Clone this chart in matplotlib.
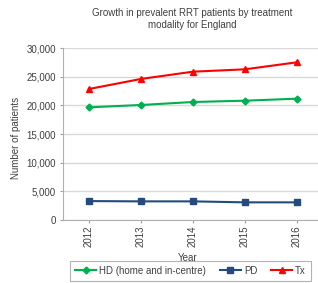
import matplotlib
matplotlib.use("Agg")
import matplotlib.pyplot as plt

years = ["2012", "2013", "2014", "2015", "2016"]
hd = [19650, 20060, 20580, 20810, 21160]
pd_ = [3300, 3250, 3250, 3080, 3080]
tx = [22850, 24600, 25870, 26280, 27500]
yticks = [0, 5000, 10000, 15000, 20000, 25000, 30000]

plt.rcParams["font.family"] = ["Liberation Sans", "DejaVu Sans"]
plt.rcParams["font.size"] = 7

fig = plt.figure(figsize=(3.18, 2.83), dpi=100)
ax = fig.add_axes([63 / 318, 1 - 220 / 283, 1 - 63 / 318, (220 - 48) / 283])

x = list(range(len(years)))
ax.plot(x, hd, color="#00b050", marker="D", markersize=3.5, lw=1.5, label="HD (home and in-centre)")
ax.plot(x, pd_, color="#254b7e", marker="s", markersize=4, lw=1.5, label="PD")
ax.plot(x, tx, color="#ff0000", marker="^", markersize=4.5, lw=1.5, label="Tx")

ax.set_xlim(-0.5, 4.41)
ax.set_ylim(0, 30000)
ax.set_yticks(yticks)
ax.set_yticklabels([f"{v:,}" for v in yticks], color="#404040")
ax.set_xticks(x)
ax.set_xticklabels(years, rotation=90, color="#404040")
ax.tick_params(axis="both", length=2, color="#a0a0a0", labelsize=7, pad=3)
ax.tick_params(axis="x", pad=2)
ax.grid(axis="y", color="#d9d9d9", lw=1)
ax.set_axisbelow(True)
for s in ["top", "right"]:
    ax.spines[s].set_visible(False)
for s in ["left", "bottom"]:
    ax.spines[s].set_color("#b0b0b0")
    ax.spines[s].set_linewidth(0.8)

fig.text(192 / 318, 1 - 8 / 283, "Growth in prevalent RRT patients by treatment\nmodality for England",
         ha="center", va="top", fontsize=7, color="#404040", linespacing=1.3)
fig.text(16 / 318, 1 - 138 / 283, "Number of patients", rotation=90, ha="center", va="center",
         fontsize=7, color="#404040")
fig.text(188 / 318, 1 - 258 / 283, "Year", ha="center", va="center", fontsize=7, color="#404040")

leg = fig.legend(loc="upper left", bbox_to_anchor=(70 / 318, 1 - 261 / 283), ncol=3, fontsize=7,
                 frameon=True, fancybox=False, edgecolor="#a0a0a0", handlelength=2.2,
                 columnspacing=1.4, handletextpad=0.3, borderpad=0.5, borderaxespad=0)
leg.get_frame().set_linewidth(0.8)
for t in leg.get_texts():
    t.set_color("#404040")

fig.savefig("out.png", dpi=100)
